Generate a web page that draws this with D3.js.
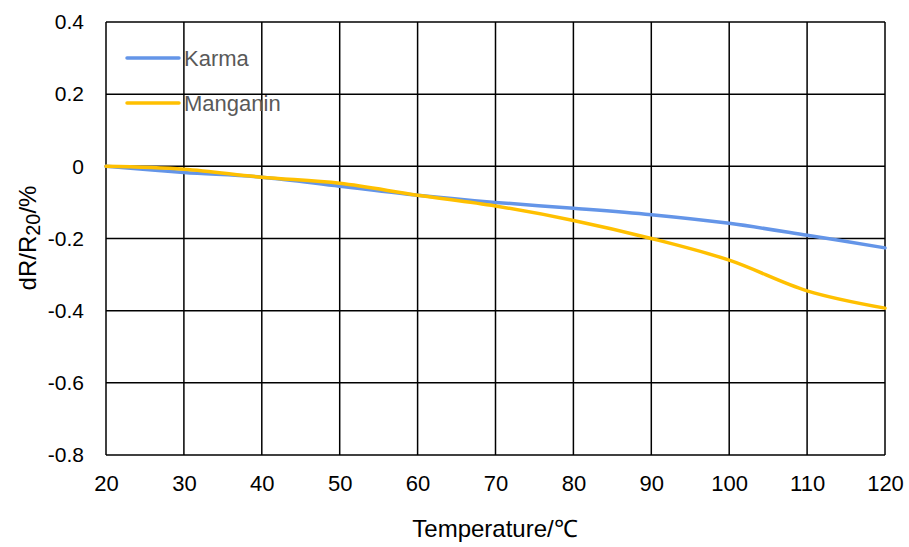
<!DOCTYPE html>
<html>
<head>
<meta charset="utf-8">
<script src="https://cdn.jsdelivr.net/npm/d3@7"></script>
<style>
  body { margin: 0; background: #fff; }
  text { font-family: Arial, "Liberation Sans", sans-serif; }
</style>
</head>
<body>
<div id="chart"></div>
<script>
// Temperature values (x) and the two resistance change series
var temps = [20, 30, 40, 50, 60, 70, 80, 90, 100, 110, 120];
var karma = [0, -0.017, -0.03, -0.055, -0.08, -0.1, -0.116, -0.134, -0.158, -0.191, -0.226];
var manganin = [0, -0.008, -0.03, -0.047, -0.08, -0.11, -0.15, -0.2, -0.26, -0.345, -0.393];
var xTicks = [20, 30, 40, 50, 60, 70, 80, 90, 100, 110, 120];
var yTicks = [0.4, 0.2, 0, -0.2, -0.4, -0.6, -0.8];
var seriesNames = ["Karma", "Manganin"];
var seriesColors = ["#6495e8", "#ffc000"];

var width = 909, height = 547;
var margin = { top: 22, right: 24, bottom: 92, left: 106 };

var svg = d3.select("#chart").append("svg")
  .attr("width", width)
  .attr("height", height);

var x = d3.scaleLinear()
  .domain([20, 120])
  .range([margin.left, width - margin.right]);

var y = d3.scaleLinear()
  .domain([-0.8, 0.4])
  .range([height - margin.bottom, margin.top]);

// grid lines
svg.append("g")
  .selectAll("line")
  .data(xTicks)
  .enter().append("line")
  .attr("x1", d => x(d)).attr("x2", d => x(d))
  .attr("y1", y(0.4)).attr("y2", y(-0.8))
  .attr("stroke", "#000")
  .attr("stroke-width", 1.5);

svg.append("g")
  .selectAll("line")
  .data(yTicks)
  .enter().append("line")
  .attr("x1", x(20)).attr("x2", x(120))
  .attr("y1", d => y(d)).attr("y2", d => y(d))
  .attr("stroke", "#000")
  .attr("stroke-width", 1.5);

// y axis labels
var yAxis = d3.axisLeft(y)
  .tickValues(yTicks)
  .tickSize(0)
  .tickPadding(22)
  .tickFormat(d => d === 0 ? "0" : d3.format(".1f")(d).replace("−", "-"));

svg.append("g")
  .attr("transform", "translate(" + margin.left + ",0)")
  .call(yAxis)
  .call(g => g.select(".domain").remove())
  .selectAll("text")
  .style("font-size", "21px")
  .style("font-family", "Arial, 'Liberation Sans', sans-serif")
  .attr("fill", "#000");

// x axis labels
var xAxis = d3.axisBottom(x)
  .tickValues(xTicks)
  .tickSize(0)
  .tickPadding(20);

svg.append("g")
  .attr("transform", "translate(0," + (height - margin.bottom) + ")")
  .call(xAxis)
  .call(g => g.select(".domain").remove())
  .selectAll("text")
  .style("font-size", "22px")
  .style("font-family", "Arial, 'Liberation Sans', sans-serif")
  .attr("fill", "#000");

// lines
var line = d3.line()
  .x((d, i) => x(temps[i]))
  .y(d => y(d))
  .curve(d3.curveCatmullRom.alpha(0.5));

[karma, manganin].forEach(function(series, i) {
  svg.append("path")
    .datum(series)
    .attr("fill", "none")
    .attr("stroke", seriesColors[i])
    .attr("stroke-width", 3.5)
    .attr("stroke-linecap", "round")
    .attr("d", line);
});

// legend
var legend = svg.selectAll(".legend")
  .data(seriesNames)
  .enter().append("g")
  .attr("class", "legend")
  .attr("transform", (d, i) => "translate(127," + (58 + i * 45) + ")");

legend.append("line")
  .attr("x1", 0).attr("x2", 52)
  .attr("stroke", (d, i) => seriesColors[i])
  .attr("stroke-width", 3.5)
  .attr("stroke-linecap", "round");

legend.append("text")
  .attr("x", 57)
  .attr("dy", "0.35em")
  .style("font-size", "22px")
  .attr("fill", "#595959")
  .text(d => d);

// x axis title
svg.append("text")
  .attr("x", 495)
  .attr("y", 537)
  .attr("text-anchor", "middle")
  .style("font-size", "24px")
  .text("Temperature/℃");

// y axis title
var yTitle = svg.append("text")
  .attr("transform", "translate(36," + 238 + ") rotate(-90)")
  .attr("text-anchor", "middle")
  .style("font-size", "24px");
yTitle.append("tspan").text("dR/R");
yTitle.append("tspan").attr("dy", 4).style("font-size", "20px").text("20");
yTitle.append("tspan").attr("dy", -4).text("/%");
</script>
</body>
</html>
